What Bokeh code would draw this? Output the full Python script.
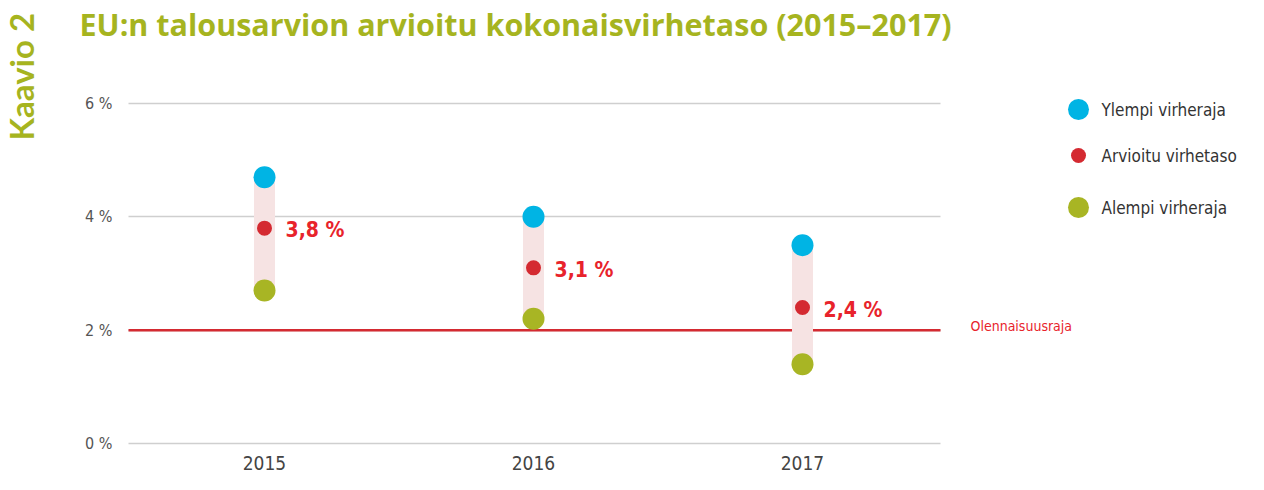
import numpy as np
from bokeh.plotting import figure
from bokeh.models import (Range1d, FixedTicker, Label, ColumnDataSource,
                          CustomJSTickFormatter)
from bokeh.core.properties import value
from bokeh.embed import file_html
from bokeh.resources import INLINE

years = [2015, 2016, 2017]
upper = [4.7, 4.0, 3.5]
estimate = [3.8, 3.1, 2.4]
lower = [2.7, 2.2, 1.4]
estimate_labels = ["3,8 %", "3,1 %", "2,4 %"]
y_ticks = [0, 2, 4, 6]
materiality = 2.0

title_text = "EU:n talousarvion arvioitu kokonaisvirhetaso (2015–2017)"
side_text = "Kaavio 2"
threshold_text = "Olennaisuusraja"
legend_labels = ["Ylempi virheraja", "Arvioitu virhetaso", "Alempi virheraja"]

COND = "'DejaVu Sans Condensed', 'Liberation Sans Narrow', sans-serif"
OLIVE = "#a6b41f"
BLUE = "#00b4e4"
RED = "#d42a31"
GREEN = "#a8b524"
PINK = "#f6e3e3"
LABEL_RED = "#e8232b"

W, H = 1248, 474
# layout (canvas pixels): frame covers the whole canvas, axes at fixed locations
PX_PER_YEAR = 269.0
PX_PER_UNIT = 340.0 / 6.0
X0_PX = 264.0
Y6_PX, Y0_PX = 103.0, 443.0
GRID_L_PX, GRID_R_PX = 128.0, 940.0
x_start = years[0] - X0_PX / PX_PER_YEAR
x_end = years[0] + (W - X0_PX) / PX_PER_YEAR
y_end = 6 + Y6_PX / PX_PER_UNIT
y_start = 0 - (H - Y0_PX) / PX_PER_UNIT


def px_x(px):
    return x_start + px / PX_PER_YEAR


def px_y(py):
    return y_end - py / PX_PER_UNIT


grid_x0 = px_x(GRID_L_PX)
grid_x1 = px_x(GRID_R_PX)

p = figure(width=W, height=H, output_backend="svg", toolbar_location=None,
           x_range=Range1d(x_start, x_end), y_range=Range1d(y_start, y_end),
           min_border_left=0, min_border_right=0, min_border_top=0, min_border_bottom=0)
p.outline_line_color = None
p.background_fill_color = "white"
p.border_fill_color = "white"

src = ColumnDataSource(dict(x=years, up=upper, est=estimate, lo=lower, lab=estimate_labels))

# grid
p.xgrid.grid_line_color = None
grid_ok = False
try:
    p.ygrid.cross_bounds = (grid_x0, grid_x1)
    grid_ok = True
except Exception:
    grid_ok = False
if grid_ok:
    p.ygrid.grid_line_color = "#cfcfcf"
    p.ygrid.grid_line_width = 1.5
else:
    p.ygrid.grid_line_color = None
    p.segment(x0=[grid_x0] * len(y_ticks), x1=[grid_x1] * len(y_ticks),
              y0=y_ticks, y1=y_ticks, line_color="#cfcfcf", line_width=1.5)

# materiality threshold line
p.segment(x0=[grid_x0], y0=[materiality], x1=[grid_x1], y1=[materiality],
          line_color=RED, line_width=2.5)

p.segment(x0="x", y0="up", x1="x", y1="lo", source=src, line_width=21,
          line_color=PINK, line_cap="butt")
p.scatter(x="x", y="up", source=src, size=22, color=BLUE, line_color=None)
p.scatter(x="x", y="est", source=src, size=15, color=RED, line_color=None)
p.scatter(x="x", y="lo", source=src, size=22, color=GREEN, line_color=None)

p.text(x="x", y="est", text="lab", source=src, x_offset=21, y_offset=2,
       text_baseline="middle", text_align="left", text_font=value(COND),
       text_font_style="bold", text_font_size="21px", text_color=LABEL_RED)

p.text(x=[grid_x1], y=[materiality], text=[threshold_text], x_offset=30, y_offset=-4,
       text_baseline="middle", text_align="left", text_font=value(COND),
       text_font_size="14px", text_color=LABEL_RED)

# axes
p.xaxis.fixed_location = 0
p.xaxis.ticker = FixedTicker(ticks=years)
p.xaxis.axis_line_color = None
p.xaxis.major_tick_line_color = None
p.xaxis.minor_tick_line_color = None
p.xaxis.major_tick_out = 0
p.xaxis.major_tick_in = 0
p.xaxis.major_label_standoff = 12
p.xaxis.major_label_text_font = COND
p.xaxis.major_label_text_font_size = "19px"
p.xaxis.major_label_text_color = "#444444"

p.yaxis.fixed_location = grid_x0
p.yaxis.ticker = FixedTicker(ticks=y_ticks)
p.yaxis.formatter = CustomJSTickFormatter(code="return tick + ' %';")
p.yaxis.axis_line_color = None
p.yaxis.major_tick_line_color = None
p.yaxis.minor_tick_line_color = None
p.yaxis.major_tick_out = 0
p.yaxis.major_tick_in = 0
p.yaxis.major_label_standoff = 16
p.yaxis.major_label_text_font = COND
p.yaxis.major_label_text_font_size = "16px"
p.yaxis.major_label_text_color = "#555555"

# legend (drawn as marks + texts at a fixed place in the right margin)
LEG_X, LEG_TX = 1078.0, 1101.0
LEG_Y = [109.0, 155.0, 207.0]
leg_colors = [BLUE, RED, GREEN]
leg_sizes = [21, 15, 21]
p.scatter(x=[px_x(LEG_X)] * 3, y=[px_y(v) for v in LEG_Y], size=leg_sizes,
          color=leg_colors, line_color=None)
p.text(x=[px_x(LEG_TX)] * 3, y=[px_y(v) for v in LEG_Y], text=legend_labels,
       text_baseline="middle", text_align="left", text_font=value(COND),
       text_font_size="17px", text_color="#333333")

# title and side label
p.add_layout(Label(x=79, y=H - 23, x_units="screen", y_units="screen",
                   text=title_text, text_font="Open Sans", text_font_style="bold",
                   text_font_size="30.5px", text_color=OLIVE, text_baseline="middle"))
p.add_layout(Label(x=20, y=H - 140, x_units="screen", y_units="screen",
                   text=side_text, angle=np.pi / 2, text_font="Lato", text_font_style="bold",
                   text_font_size="33px", text_color=OLIVE, text_baseline="middle"))

open("out.html", "w").write(file_html(p, INLINE))
